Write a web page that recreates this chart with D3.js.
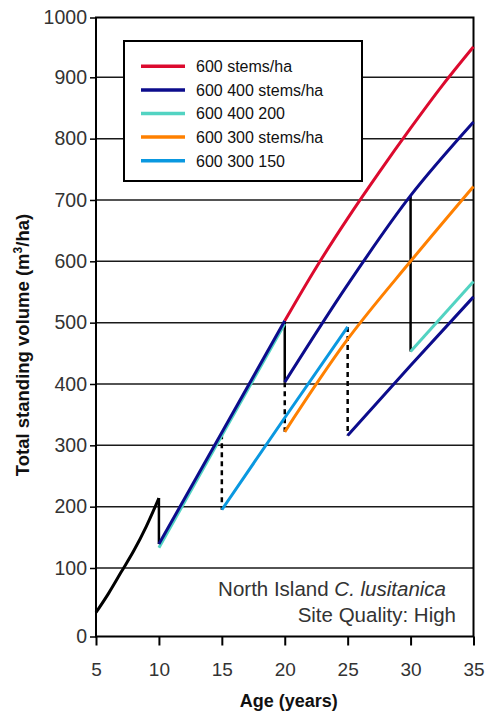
<!DOCTYPE html>
<html>
<head>
<meta charset="utf-8">
<script src="https://cdn.jsdelivr.net/npm/d3@7"></script>
<style>
  html, body { margin: 0; padding: 0; background: #fff; }
  svg { display: block; font-family: "Liberation Sans", Arial, sans-serif; }
</style>
</head>
<body>
<svg id="chart" width="486" height="714"></svg>
<script>
// ---------- data ----------
const xTicks = [5, 10, 15, 20, 25, 30, 35];
const yTicks = [0, 100, 200, 300, 400, 500, 600, 700, 800, 900, 1000];

const seriesNames = ["600 stems/ha", "600 400 stems/ha", "600 400 200", "600 300 stems/ha", "600 300 150"];
const seriesColors = ["#dc0a2e", "#0c0c8c", "#52d3c2", "#ff8000", "#0a98e0"];

// unthinned establishment growth (black)
const blackAges = [5, 6, 7, 8, 9, 10];
const blackVol  = [35, 63, 94, 128, 168, 214];

// 600 stems/ha
const redAges = [20, 22.5, 25, 27.5, 30, 32.5, 35];
const redVol  = [503, 590, 670, 745, 817, 886, 951];

// 600 400 stems/ha (navy) segments
const navy1Ages = [10, 15, 20];      const navy1Vol = [139, 321, 503];
const navy2Ages = [20, 25, 30, 35];  const navy2Vol = [403, 562, 707, 827];
const navy3Ages = [25, 30, 35];      const navy3Vol = [316, 430, 542];

// 600 400 200 (teal)
const teal1Ages = [10, 15, 20];      const teal1Vol = [133, 316, 498];
const teal2Ages = [30, 35];          const teal2Vol = [453, 567];

// 600 300 stems/ha (orange)
const orangeAges = [20, 25, 30, 35]; const orangeVol = [322, 473, 600, 722];

// 600 300 150 (blue)
const blueAges = [15, 20, 25];       const blueVol = [195, 345, 493];

// thinning drops: [age, from, to]
const solidDrops  = [[10, 214, 139], [20, 503, 403], [30, 707, 453]];
const dashedDrops = [[15, 318, 195], [20, 403, 322], [25, 493, 316]];

// ---------- layout ----------
const svg = d3.select("#chart");
const x = d3.scaleLinear().domain([5, 35]).range([96, 473.5]);
const y = d3.scaleLinear().domain([0, 100, 900, 1000]).range([636.5, 568, 77.3, 17.5]);

const zip = (a, b) => a.map((v, i) => [v, b[i]]);
const line = d3.line().x(d => x(d[0])).y(d => y(d[1]));
const curve = d3.line().x(d => x(d[0])).y(d => y(d[1])).curve(d3.curveCatmullRom.alpha(0.5));

// gridlines
svg.append("g").selectAll("line").data(yTicks.filter(t => t > 0 && t < 1000)).join("line")
  .attr("x1", x(5)).attr("x2", x(35))
  .attr("y1", d => y(d)).attr("y2", d => y(d))
  .attr("stroke", "#1a1a1a").attr("stroke-width", 1.5);

// frame
svg.append("rect")
  .attr("x", x(5)).attr("y", y(1000))
  .attr("width", x(35) - x(5)).attr("height", y(0) - y(1000))
  .attr("fill", "none").attr("stroke", "#000").attr("stroke-width", 2);

// axes
const yAxis = d3.axisLeft(y).tickValues(yTicks).tickSize(6).tickPadding(3).tickFormat(d3.format("d"));
const gy = svg.append("g").attr("transform", `translate(${x(5)},0)`).call(yAxis);
gy.select(".domain").remove();
gy.selectAll(".tick line").attr("stroke", "#000").attr("stroke-width", 1.5);
gy.selectAll(".tick text").attr("fill", "#333").style("font-size", "19.5px")
  .style("font-family", "'Liberation Sans', Arial, sans-serif");

const xAxis = d3.axisBottom(x).tickValues(xTicks).tickSize(9).tickPadding(17).tickFormat(d3.format("d"));
const gx = svg.append("g").attr("transform", `translate(0,${y(0)})`).call(xAxis);
gx.select(".domain").remove();
gx.selectAll(".tick line").attr("stroke", "#000").attr("stroke-width", 2);
gx.selectAll(".tick text").attr("fill", "#333").style("font-size", "19px")
  .style("font-family", "'Liberation Sans', Arial, sans-serif");

// axis titles
svg.append("text")
  .attr("x", (x(5) + x(35)) / 2 + 4).attr("y", 707)
  .attr("text-anchor", "middle")
  .style("font-size", "18px").style("font-weight", "bold").attr("fill", "#111")
  .text("Age (years)");

const yt = svg.append("text")
  .attr("transform", `translate(29,${345}) rotate(-90)`)
  .attr("text-anchor", "middle")
  .style("font-size", "18.5px").style("font-weight", "bold").attr("fill", "#111");
yt.append("tspan").text("Total standing volume (m");
yt.append("tspan").text("3").style("font-size", "12px").attr("dy", -7);
yt.append("tspan").text("/ha)").attr("dy", 7);

// data lines
const plot = svg.append("g").attr("fill", "none").attr("stroke-linecap", "butt");
function draw(ages, vols, color, smooth) {
  plot.append("path").datum(zip(ages, vols))
    .attr("d", smooth ? curve : line)
    .attr("stroke", color).attr("stroke-width", 3);
}

// thinning drops
plot.selectAll("line.solid").data(solidDrops).join("line").attr("class", "solid")
  .attr("x1", d => x(d[0])).attr("x2", d => x(d[0]))
  .attr("y1", d => y(d[1])).attr("y2", d => y(d[2]))
  .attr("stroke", "#000").attr("stroke-width", 2.5);
plot.selectAll("line.dash").data(dashedDrops).join("line").attr("class", "dash")
  .attr("x1", d => x(d[0])).attr("x2", d => x(d[0]))
  .attr("y1", d => y(d[1])).attr("y2", d => y(d[2]))
  .attr("stroke", "#000").attr("stroke-width", 2.5).attr("stroke-dasharray", "5,4");

draw(blackAges, blackVol, "#000", true);
draw(teal1Ages, teal1Vol, seriesColors[2]);
draw(navy1Ages, navy1Vol, seriesColors[1]);
draw(blueAges, blueVol, seriesColors[4]);
draw(orangeAges, orangeVol, seriesColors[3], true);
draw(navy3Ages, navy3Vol, seriesColors[1]);
draw(teal2Ages, teal2Vol, seriesColors[2]);
draw(navy2Ages, navy2Vol, seriesColors[1], true);
draw(redAges, redVol, seriesColors[0], true);

// legend
const lg = svg.append("g");
lg.append("rect").attr("x", 124).attr("y", 41).attr("width", 238).attr("height", 140)
  .attr("fill", "#fff").attr("stroke", "#000").attr("stroke-width", 2);
const rows = lg.selectAll("g.row").data(seriesNames).join("g").attr("class", "row")
  .attr("transform", (d, i) => `translate(0,${66.3 + i * 23.6})`);
rows.append("line").attr("x1", 141).attr("x2", 185).attr("y1", 0).attr("y2", 0)
  .attr("stroke", (d, i) => seriesColors[i]).attr("stroke-width", 3.5);
rows.append("text").attr("x", 196).attr("y", 5.8)
  .style("font-size", "16px").attr("fill", "#111").text(d => d);

// annotation
const a1 = svg.append("text").attr("x", 446).attr("y", 596).attr("text-anchor", "end")
  .style("font-size", "20.5px").attr("fill", "#333");
a1.append("tspan").text("North Island ");
a1.append("tspan").style("font-style", "italic").text("C. lusitanica");
svg.append("text").attr("x", 456).attr("y", 622).attr("text-anchor", "end")
  .style("font-size", "20.5px").attr("fill", "#333").text("Site Quality: High");
</script>
</body>
</html>
